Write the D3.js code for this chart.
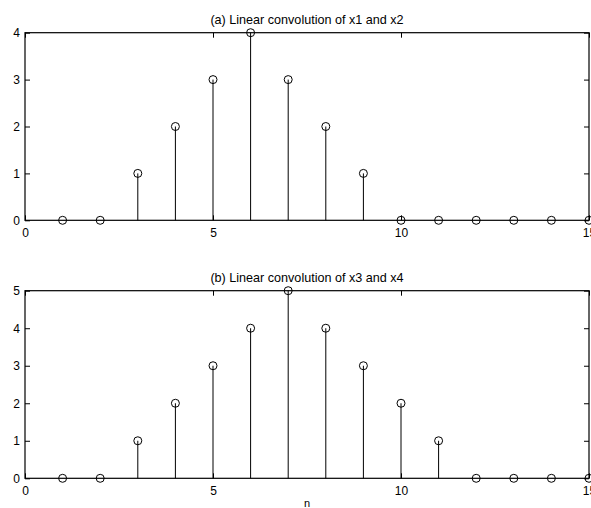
<!DOCTYPE html>
<html><head><meta charset="utf-8">
<script src="https://cdn.jsdelivr.net/npm/d3@7"></script>
<style>html,body{margin:0;padding:0;background:#fff;overflow:hidden}svg{display:block}</style>
</head><body>
<script>
const n = [1,2,3,4,5,6,7,8,9,10,11,12,13,14,15];
const yA = [0,0,1,2,3,4,3,2,1,0,0,0,0,0,0];
const yB = [0,0,1,2,3,4,5,4,3,2,1,0,0,0,0];
const titles = ["(a) Linear convolution of x1 and x2", "(b) Linear convolution of x3 and x4"];
const xTicks = [0,5,10,15];
const yTicksA = [0,1,2,3,4];
const yTicksB = [0,1,2,3,4,5];

const W = 591, H = 508;
const svg = d3.select("body").append("svg").attr("width", W).attr("height", H);
const font = "Helvetica, Arial, 'Liberation Sans', sans-serif";

const x = d3.scaleLinear().domain([0,15]).range([25,589]);

function panel(top, bottom, ymax, yTicks, vals, title, xlabel){
  const y = d3.scaleLinear().domain([0,ymax]).range([bottom, top]);
  const g = svg.append("g");
  const tl = 5;
  const ax = g.append("g").attr("transform",`translate(0,${bottom})`)
    .call(d3.axisBottom(x).tickValues(xTicks).tickSize(-tl).tickPadding(8).tickFormat(d3.format("d")));
  const axT = g.append("g").attr("transform",`translate(0,${top})`)
    .call(d3.axisTop(x).tickValues(xTicks).tickSize(-tl).tickFormat(""));
  const ay = g.append("g").attr("transform",`translate(${x(0)},0)`)
    .call(d3.axisLeft(y).tickValues(yTicks).tickSize(-tl).tickPadding(5).tickFormat(d3.format("d")));
  const ayR = g.append("g").attr("transform",`translate(${x(15)},0)`)
    .call(d3.axisRight(y).tickValues(yTicks).tickSize(-tl).tickFormat(""));
  [ax,axT,ay,ayR].forEach(a=>{
    a.select(".domain").remove();
    a.selectAll(".tick line").attr("stroke","#000").attr("stroke-width",1);
    a.selectAll("text").attr("fill","#000").style("font-family",font).style("font-size","12px");
  });
  g.append("rect").attr("x",x(0)).attr("y",top).attr("width",x(15)-x(0)).attr("height",bottom-top)
    .attr("fill","none").attr("stroke","#000").attr("stroke-width",1.2);
  const pts = n.map((d,i)=>({n:d,v:vals[i]}));
  g.selectAll(".stem").data(pts).enter().append("line")
    .attr("x1",d=>x(d.n)).attr("x2",d=>x(d.n)).attr("y1",y(0)).attr("y2",d=>y(d.v))
    .attr("stroke","#000").attr("stroke-width",1);
  g.selectAll(".mk").data(pts).enter().append("circle")
    .attr("cx",d=>x(d.n)).attr("cy",d=>y(d.v)).attr("r",4)
    .attr("fill","none").attr("stroke","#000").attr("stroke-width",1);
  g.append("text").attr("x",(x(0)+x(15))/2).attr("y",top-8.7).attr("text-anchor","middle")
    .style("font-family",font).style("font-size","12.6px").text(title);
  if(xlabel){
    g.append("text").attr("x",(x(0)+x(15))/2).attr("y",bottom+28.5).attr("text-anchor","middle")
      .style("font-family",font).style("font-size","11px").text(xlabel);
  }
}
panel(32.7, 220.3, 4, yTicksA, yA, titles[0], null);
panel(290.7, 478.3, 5, yTicksB, yB, titles[1], "n");
</script>
</body></html>
